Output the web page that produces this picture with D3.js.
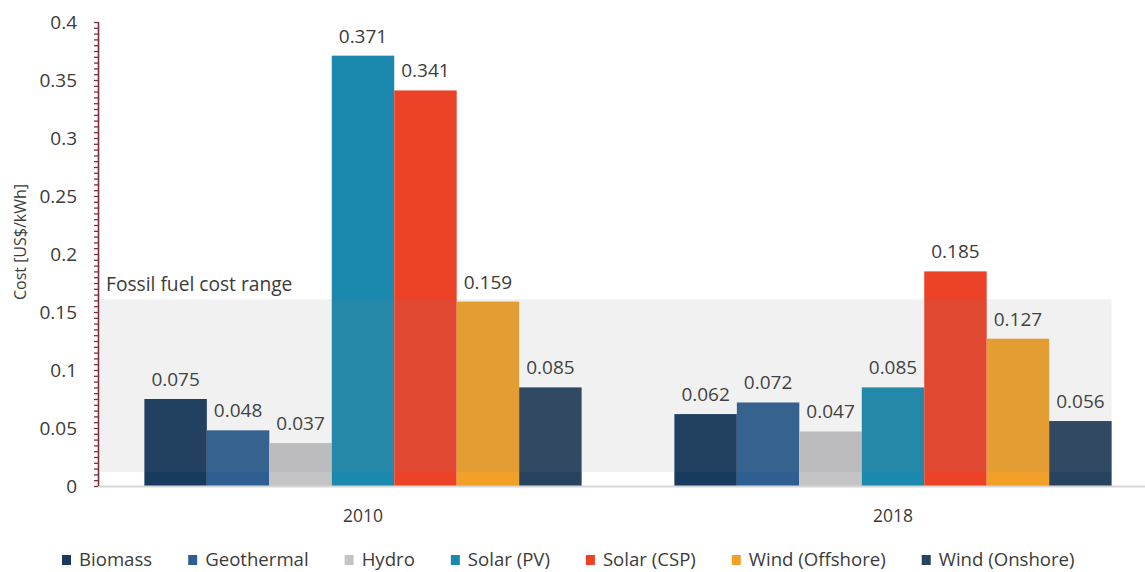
<!DOCTYPE html>
<html>
<head>
<meta charset="utf-8">
<script src="https://cdn.jsdelivr.net/npm/d3@7"></script>
<style>
  html, body { margin: 0; padding: 0; background: #fff; }
  svg { display: block; font-family: "Open Sans", sans-serif; }
</style>
</head>
<body>
<svg id="chart" width="1145" height="572"></svg>
<script>
// Levelised cost of electricity by technology, 2010 vs 2018
const years = ["2010", "2018"];
const technologies = ["Biomass", "Geothermal", "Hydro", "Solar (PV)", "Solar (CSP)", "Wind (Offshore)", "Wind (Onshore)"];
const colors = ["#173a5e", "#2e5f92", "#c4c4c6", "#1b89ad", "#ec4228", "#f1a12a", "#28435f"];
const cost2010 = [0.075, 0.048, 0.037, 0.371, 0.341, 0.159, 0.085];
const cost2018 = [0.062, 0.072, 0.047, 0.085, 0.185, 0.127, 0.056];
const fossilRange = [0.012, 0.161];
const yTicks = [0, 0.05, 0.1, 0.15, 0.2, 0.25, 0.3, 0.35, 0.4];
const yMinorStep = 0.005;

const costsByYear = { "2010": cost2010, "2018": cost2018 };
const rows = years.map(yr => ({
  year: yr,
  values: technologies.map((t, i) => ({ tech: t, value: costsByYear[yr][i], color: colors[i] }))
}));

const svg = d3.select("#chart");
const plot = { left: 98, right: 1158, top: 22, bottom: 486 };

const y = d3.scaleLinear().domain([0, 0.4]).range([plot.bottom, plot.top]);
const x0 = d3.scaleBand().domain(years).range([plot.left, plot.right])
  .paddingInner(0.175).paddingOuter(0.0875);
const x1 = d3.scaleBand().domain(technologies).range([0, x0.bandwidth()]).padding(0);

const textColor = "#3b3b3b";

// Bars
const groups = svg.append("g").selectAll("g").data(rows).join("g")
  .attr("transform", d => `translate(${x0(d.year)},0)`);
groups.selectAll("rect").data(d => d.values).join("rect")
  .attr("x", d => x1(d.tech))
  .attr("y", d => y(d.value))
  .attr("width", x1.bandwidth())
  .attr("height", d => y(0) - y(d.value))
  .attr("fill", d => d.color);

// Fossil fuel cost range band (semi-transparent, over the bars)
const bandX0 = plot.left + 2;
const bandX1 = x0(years[years.length - 1]) + x0.bandwidth();
svg.append("rect")
  .attr("x", bandX0)
  .attr("y", y(fossilRange[1]))
  .attr("width", bandX1 - bandX0)
  .attr("height", y(fossilRange[0]) - y(fossilRange[1]))
  .attr("fill", "#808080")
  .attr("fill-opacity", 0.11);

svg.append("text")
  .attr("x", bandX0 + 6)
  .attr("y", y(fossilRange[1]) - 8)
  .attr("font-size", 19.2)
  .attr("fill", textColor)
  .text("Fossil fuel cost range");

// Value labels
groups.selectAll("text.val").data(d => d.values).join("text")
  .attr("class", "val")
  .attr("x", d => x1(d.tech) + x1.bandwidth() / 2)
  .attr("y", d => y(d.value) - 13)
  .attr("text-anchor", "middle")
  .attr("font-size", 19)
  .attr("fill", textColor)
  .text(d => d.value.toFixed(3));

// X baseline
svg.append("line")
  .attr("x1", plot.left).attr("x2", 1145)
  .attr("y1", y(0) + 0.5).attr("y2", y(0) + 0.5)
  .attr("stroke", "#d6d6d6").attr("stroke-width", 2);

// Year labels
svg.append("g").selectAll("text").data(years).join("text")
  .attr("x", d => x0(d) + x0.bandwidth() / 2)
  .attr("y", 522)
  .attr("text-anchor", "middle")
  .attr("font-size", 17.5)
  .attr("fill", textColor)
  .text(d => d);

// Y axis with minor ticks
const axisColor = "#7d2e3c";
const minorTicks = d3.range(0, 0.4 + 1e-9, yMinorStep);
const yAxisG = svg.append("g").attr("transform", `translate(${plot.left},0)`);
yAxisG.call(d3.axisLeft(y).tickValues(minorTicks).tickSize(4).tickFormat(""));
yAxisG.select(".domain").attr("stroke", axisColor).attr("stroke-width", 1.6)
  .attr("d", `M0.5,${y(0.4)}V${y(0)}`);
yAxisG.selectAll(".tick line").attr("stroke", axisColor).attr("stroke-width", 1.3);

svg.append("g").selectAll("text").data(yTicks).join("text")
  .attr("x", plot.left - 21)
  .attr("y", d => y(d))
  .attr("dy", "0.35em")
  .attr("text-anchor", "end")
  .attr("font-size", 19)
  .attr("fill", textColor)
  .text(d => String(d));

// Y axis title
svg.append("text")
  .attr("transform", `translate(26,${(y(0.4) + y(0)) / 2 - 12}) rotate(-90)`)
  .attr("text-anchor", "middle")
  .attr("font-size", 16)
  .attr("fill", textColor)
  .text("Cost [US$/kWh]");

// Legend: swatch + label, laid out left to right
const legend = svg.append("g");
const legendY = 560;
let lx = 62;
technologies.forEach((t, i) => {
  legend.append("rect").attr("x", lx).attr("y", legendY - 5).attr("width", 9).attr("height", 10)
    .attr("fill", colors[i]);
  const txt = legend.append("text").attr("x", lx + 17).attr("y", legendY + 6)
    .attr("font-size", 18.6).attr("fill", textColor).text(t);
  lx += 17 + txt.node().getComputedTextLength() + 36;
});
</script>
</body>
</html>
